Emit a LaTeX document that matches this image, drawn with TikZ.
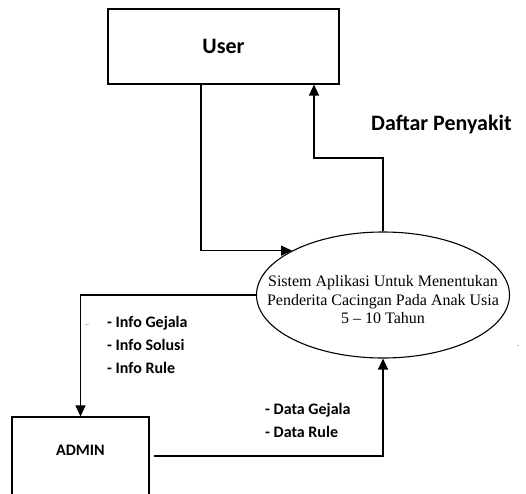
\documentclass[tikz,border=0pt]{standalone}
\usepackage{fontspec}
\setmainfont{Carlito}
\newfontfamily\serifproc[Ligatures=TeX]{Liberation Serif}
\usetikzlibrary{arrows.meta,shapes.geometric,calc}
\begin{document}
\begin{tikzpicture}[x=1pt,y=-1pt,
  entity/.style={draw,line width=1.1pt,rectangle,inner sep=0pt,font=\bfseries},
  proc/.style={draw,line width=1.1pt,ellipse,inner sep=0pt},
  proctext/.style={align=center,inner sep=0pt,
    font=\serifproc\fontsize{16}{18.5}\selectfont},
  flow/.style={line width=1.3pt,-{Triangle[length=11pt,width=10pt]}},
  lbl/.style={anchor=west,font=\bfseries\fontsize{16}{23}\selectfont,align=left,inner sep=0pt}]
  \clip (0,0) rectangle (526,493);
  \useasboundingbox (0,0) rectangle (526,493);

  % external entities and the process
  \node[entity,minimum width=231pt,minimum height=75pt,font=\bfseries\fontsize{22}{26}\selectfont]
    (user) at (223.5,46.5) {User};
  \node[proc,minimum width=253pt,minimum height=126pt] (sys) at (383,295) {};
  \node[proctext] (systxt) at (383,300)
    {Sistem Aplikasi Untuk Menentukan\\Penderita Cacingan Pada Anak Usia\\5 -- 10 Tahun};
  \node[entity,minimum width=137pt,minimum height=88pt] (admin) at (80.5,461) {};
  \node[font=\bfseries\fontsize{16}{19}\selectfont] (admintxt) at (80.5,450) {ADMIN};

  % bend points of the data flows
  \coordinate (b1) at (201,251);
  \coordinate (b2) at (314,158);
  \coordinate (b3) at (149,456);

  % data flows
  \draw[flow] (user.south -| b1) |- (sys.154);
  \draw[flow] (sys.north) |- (b2) -- (user.south -| b2);
  \draw[flow] (sys.west) -| (admin.north);
  \draw[flow,shorten <=4pt] (admin.east |- b3) -| (sys.south);

  % flow labels
  \node[lbl,font=\bfseries\fontsize{22}{26}\selectfont] (lblout) at (371,125) {Daftar Penyakit};
  \node[lbl] (lblinfo) at (107,345) {- Info Gejala\\- Info Solusi\\- Info Rule};
  \node[lbl] (lbldata) at (265,420) {- Data Gejala\\- Data Rule};

  % stray marks
  \node[font=\fontsize{8}{8}\selectfont,text=gray] (m1) at (87,325) {\_};
  \node[font=\fontsize{8}{8}\selectfont,text=gray] (m2) at (518,347) {-};
\end{tikzpicture}
\end{document}
